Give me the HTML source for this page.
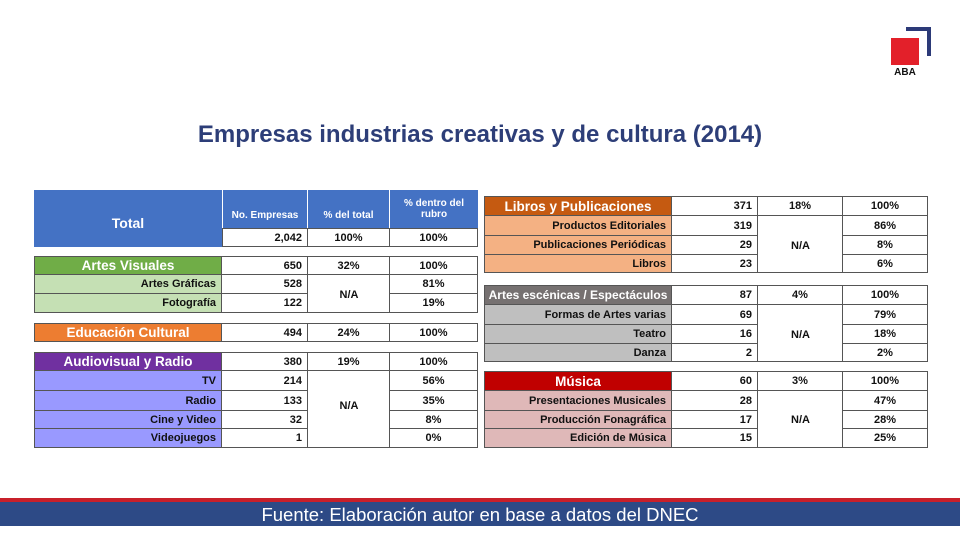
<!DOCTYPE html>
<html><head><meta charset="utf-8"><style>
body{margin:0;width:960px;height:540px;background:#fff;position:relative;overflow:hidden;font-family:"Liberation Sans",sans-serif;}
.r{position:absolute;display:flex;box-sizing:border-box;}
.r div{box-sizing:border-box;border-right:1px solid #555;border-bottom:1px solid #555;font-size:11px;font-weight:bold;color:#111;display:flex;align-items:center;padding:0 5px;height:100%;}
.r div:first-child{border-left:1px solid #555;justify-content:flex-end;}
.r div.c{justify-content:center}
.r div.n{justify-content:flex-end}
.r div.nb{border-bottom:none}
.r div.h{justify-content:center;color:#fff;font-size:13.5px;}
.L div:nth-child(1){width:188px}.L div:nth-child(2){width:86px}.L div:nth-child(3){width:82px}.L div:nth-child(4){width:88px}
.R div:nth-child(1){width:188px}.R div:nth-child(2){width:86px}.R div:nth-child(3){width:85px}.R div:nth-child(4){width:85px}
.L{left:34px;width:444px}.R{left:484px;width:444px}
.na{position:absolute;font-size:11px;font-weight:bold;color:#111;text-align:center}
</style></head><body>
<div style="position:absolute;left:906px;top:27px;width:25px;height:29px;border-top:4px solid #2c3a78;border-right:4px solid #2c3a78;box-sizing:border-box"></div>
<div style="position:absolute;left:891px;top:38px;width:28px;height:27px;background:#e3202a"></div>
<div style="position:absolute;left:891px;top:67px;width:28px;text-align:center;font-size:10px;font-weight:bold;color:#111">ABA</div>
<div style="position:absolute;left:0;top:121px;width:960px;text-align:center;font-size:24px;font-weight:bold;color:#2d3e78">Empresas industrias creativas y de cultura (2014)</div>

<!-- Total -->
<div style="position:absolute;left:34px;top:190px;width:444px;height:57px;background:#4472c4"></div>
<div style="position:absolute;left:34px;top:190px;width:188px;height:57px;display:flex;align-items:center;justify-content:center;color:#fff;font-weight:bold;font-size:14px;padding-top:8px;box-sizing:border-box">Total</div>
<div class="r L" style="top:190px;height:38px;left:222px;width:256px">
<div class="c" style="width:86px;border-left:1px solid #fff;border-right:1px solid #fff;border-bottom:none;color:#fff;font-size:10px;padding-top:12px">No. Empresas</div>
<div class="c" style="width:82px;border-right:1px solid #fff;border-bottom:none;color:#fff;font-size:10px;padding-top:12px">% del total</div>
<div class="c" style="width:88px;border-right:none;border-bottom:none;color:#fff;font-size:10px;text-align:center">% dentro del rubro</div></div>
<div class="r" style="top:228px;height:19px;left:222px;background:#fff;border-top:1px solid #555">
<div class="n" style="width:86px">2,042</div><div class="c" style="width:82px">100%</div><div class="c" style="width:88px">100%</div></div>

<div class="r L" style="top:256px;height:19px;border-top:1px solid #555"><div class="h" style="background:#70ad47">Artes Visuales</div><div class="n">650</div><div class="c">32%</div><div class="c">100%</div></div>
<div class="r L" style="top:275px;height:19px"><div style="background:#c5e0b4">Artes Gráficas</div><div class="n">528</div><div class="nb"></div><div class="c">81%</div></div>
<div class="r L" style="top:294px;height:19px"><div style="background:#c5e0b4">Fotografía</div><div class="n">122</div><div></div><div class="c">19%</div></div>
<div class="na" style="left:308px;top:289px;width:82px">N/A</div>

<div class="r L" style="top:323px;height:19px;border-top:1px solid #555"><div class="h" style="background:#ed7d31">Educación Cultural</div><div class="n">494</div><div class="c">24%</div><div class="c">100%</div></div>

<div class="r L" style="top:352px;height:19px;border-top:1px solid #555"><div class="h" style="background:#7030a0">Audiovisual y Radio</div><div class="n">380</div><div class="c">19%</div><div class="c">100%</div></div>
<div class="r L" style="top:371px;height:20px"><div style="background:#9999ff">TV</div><div class="n">214</div><div class="nb"></div><div class="c">56%</div></div>
<div class="r L" style="top:391px;height:20px"><div style="background:#9999ff">Radio</div><div class="n">133</div><div class="nb"></div><div class="c">35%</div></div>
<div class="r L" style="top:411px;height:18px"><div style="background:#9999ff">Cine y Video</div><div class="n">32</div><div class="nb"></div><div class="c">8%</div></div>
<div class="r L" style="top:429px;height:19px"><div style="background:#9999ff">Videojuegos</div><div class="n">1</div><div></div><div class="c">0%</div></div>
<div class="na" style="left:308px;top:400px;width:82px">N/A</div>

<!-- Right -->
<div class="r R" style="top:196px;height:20px;border-top:1px solid #555"><div class="h" style="background:#c55a11">Libros y Publicaciones</div><div class="n">371</div><div class="c">18%</div><div class="c">100%</div></div>
<div class="r R" style="top:216px;height:20px"><div style="background:#f4b183">Productos Editoriales</div><div class="n">319</div><div class="nb"></div><div class="c">86%</div></div>
<div class="r R" style="top:236px;height:19px"><div style="background:#f4b183">Publicaciones Periódicas</div><div class="n">29</div><div class="nb"></div><div class="c">8%</div></div>
<div class="r R" style="top:255px;height:18px"><div style="background:#f4b183">Libros</div><div class="n">23</div><div></div><div class="c">6%</div></div>
<div class="na" style="left:758px;top:240px;width:85px">N/A</div>

<div class="r R" style="top:285px;height:20px;border-top:1px solid #555"><div class="h" style="background:#767171;font-size:12px;padding:0 2px">Artes escénicas / Espectáculos</div><div class="n">87</div><div class="c">4%</div><div class="c">100%</div></div>
<div class="r R" style="top:305px;height:20px"><div style="background:#bfbfbf">Formas de Artes varias</div><div class="n">69</div><div class="nb"></div><div class="c">79%</div></div>
<div class="r R" style="top:325px;height:19px"><div style="background:#bfbfbf">Teatro</div><div class="n">16</div><div class="nb"></div><div class="c">18%</div></div>
<div class="r R" style="top:344px;height:18px"><div style="background:#bfbfbf">Danza</div><div class="n">2</div><div></div><div class="c">2%</div></div>
<div class="na" style="left:758px;top:329px;width:85px">N/A</div>

<div class="r R" style="top:371px;height:20px;border-top:1px solid #555"><div class="h" style="background:#c00000">Música</div><div class="n">60</div><div class="c">3%</div><div class="c">100%</div></div>
<div class="r R" style="top:391px;height:20px"><div style="background:#dfb8b8">Presentaciones Musicales</div><div class="n">28</div><div class="nb"></div><div class="c">47%</div></div>
<div class="r R" style="top:411px;height:18px"><div style="background:#dfb8b8">Producción Fonagráfica</div><div class="n">17</div><div class="nb"></div><div class="c">28%</div></div>
<div class="r R" style="top:429px;height:19px"><div style="background:#dfb8b8">Edición de Música</div><div class="n">15</div><div></div><div class="c">25%</div></div>
<div class="na" style="left:758px;top:414px;width:85px">N/A</div>

<div style="position:absolute;left:0;top:498px;width:960px;height:4px;background:#c8202a"></div>
<div style="position:absolute;left:0;top:502px;width:960px;height:24px;background:#2d4a86;color:#fff;font-size:18.5px;text-align:center;line-height:26px">Fuente: Elaboración autor en base a datos del DNEC</div>
</body></html>
